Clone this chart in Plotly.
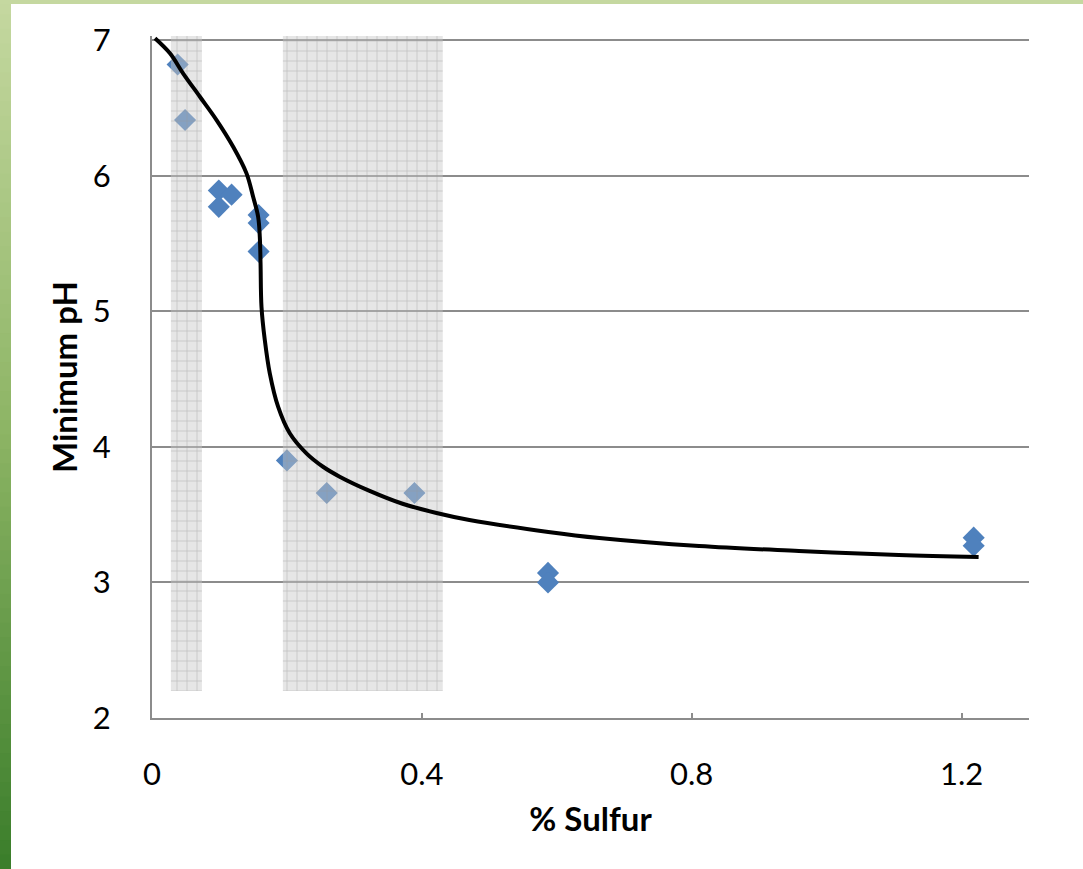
import plotly.graph_objects as go

# ---- data ----
sulfur = [0.038, 0.049, 0.099, 0.099, 0.118, 0.158, 0.158, 0.158,
          0.200, 0.259, 0.389, 0.587, 0.587, 1.218, 1.218]
min_ph = [6.82, 6.41, 5.89, 5.77, 5.86, 5.71, 5.65, 5.44,
          3.90, 3.66, 3.66, 3.07, 3.00, 3.33, 3.27]

curve_x = [0.0044, 0.0266, 0.0463, 0.0710, 0.0957, 0.1203, 0.1401, 0.1499,
           0.1573, 0.1598, 0.1609, 0.1623, 0.1672, 0.1746, 0.1869, 0.2042,
           0.2289, 0.2535, 0.2782, 0.3226, 0.3714, 0.4217, 0.4705, 0.5875,
           0.663, 0.811, 0.959, 1.107, 1.2253]
curve_y = [7.013, 6.902, 6.753, 6.582, 6.410, 6.213, 6.017, 5.844,
           5.697, 5.549, 5.353, 5.033, 4.788, 4.542, 4.296, 4.100,
           3.952, 3.853, 3.780, 3.675, 3.580, 3.512, 3.460, 3.372,
           3.327, 3.268, 3.232, 3.202, 3.187]

band_x0 = [0.028, 0.194]
band_x1 = [0.074, 0.431]
band_ymin = 2.2
band_ymax = 7.03

x_ticks = [0, 0.4, 0.8, 1.2]
x_ticklabels = ["0", "0.4", "0.8", "1.2"]
y_ticks = [2, 3, 4, 5, 6, 7]

FONT = "Lato"
GRAY = "#8c8c8c"

fig = go.Figure()

fig.add_trace(go.Scatter(
    x=sulfur, y=min_ph, mode="markers",
    marker=dict(symbol="diamond", size=17, color="#4f81bd",
                line=dict(width=0)),
    showlegend=False, hoverinfo="x+y"))

for x0, x1 in zip(band_x0, band_x1):
    fig.add_trace(go.Scatter(
        x=[x0, x1, x1, x0, x0],
        y=[band_ymin, band_ymin, band_ymax, band_ymax, band_ymin],
        mode="lines", line=dict(width=0), fill="toself",
        fillcolor="rgba(195,195,195,0.45)",
        fillpattern=dict(shape="+", size=10, solidity=0.15,
                         fgcolor="rgba(150,150,150,0.45)",
                         bgcolor="rgba(200,200,200,0.45)",
                         fillmode="replace"),
        showlegend=False, hoverinfo="skip"))

fig.add_trace(go.Scatter(
    x=curve_x, y=curve_y, mode="lines",
    line=dict(color="black", width=4, shape="spline", smoothing=1.0),
    showlegend=False, hoverinfo="skip"))

# ---- decorative green frame (left gradient strip and top strip) ----
shapes = []
W, H = 1083, 869
L, R, T, B = 152, 54, 36, 151
pw, ph = W - L - R, H - T - B

def px_to_paper_x(px):
    return (px - L) / pw

def px_to_paper_y(py):
    return 1 - (py - T) / ph

stops = [(0.0, (197, 216, 160)), (0.5, (140, 180, 100)), (1.0, (58, 125, 42))]

def col(t):
    for (t0, c0), (t1, c1) in zip(stops[:-1], stops[1:]):
        if t0 <= t <= t1:
            f = (t - t0) / (t1 - t0)
            return "rgb(%d,%d,%d)" % tuple(round(a + (b - a) * f) for a, b in zip(c0, c1))
    return "rgb(%d,%d,%d)" % stops[-1][1]

n = 60
for i in range(n):
    y0 = H * i / n
    y1 = H * (i + 1) / n + 1
    shapes.append(dict(type="rect", xref="paper", yref="paper", layer="below",
                       x0=px_to_paper_x(0), x1=px_to_paper_x(11),
                       y0=px_to_paper_y(y1), y1=px_to_paper_y(y0),
                       fillcolor=col((i + 0.5) / n), line=dict(width=0)))
shapes.append(dict(type="rect", xref="paper", yref="paper", layer="below",
                   x0=px_to_paper_x(0), x1=px_to_paper_x(W),
                   y0=px_to_paper_y(4), y1=px_to_paper_y(0),
                   fillcolor="rgb(197,216,160)", line=dict(width=0)))

fig.update_layout(
    width=W, height=H,
    margin=dict(l=L, r=R, t=T, b=B, pad=0),
    paper_bgcolor="white", plot_bgcolor="white",
    font=dict(family=FONT, size=30, color="black"),
    shapes=shapes,
    xaxis=dict(range=[0, 1.3], tickvals=x_ticks, ticktext=x_ticklabels,
               showgrid=False, zeroline=False, showline=True,
               linecolor=GRAY, linewidth=2, ticks="inside", ticklen=5,
               tickcolor=GRAY, tickwidth=2, ticklabelstandoff=28,
               tickfont=dict(family=FONT, size=31),
               title=dict(text="<b>% Sulfur</b>", standoff=17,
                          font=dict(family=FONT, size=33))),
    yaxis=dict(range=[2, 7.03], tickvals=y_ticks,
               showgrid=True, gridcolor=GRAY, gridwidth=1.5,
               zeroline=False, showline=True, linecolor=GRAY, linewidth=2,
               ticks="", ticklabelstandoff=33,
               tickfont=dict(family=FONT, size=31),
               title=dict(text="<b>Minimum pH</b>", standoff=5,
                          font=dict(family=FONT, size=33))),
)

fig.write_html("out.html",
               config={"displayModeBar": False},
               post_script="document.body.style.margin='0';"
                           "document.body.style.overflow='hidden';")
